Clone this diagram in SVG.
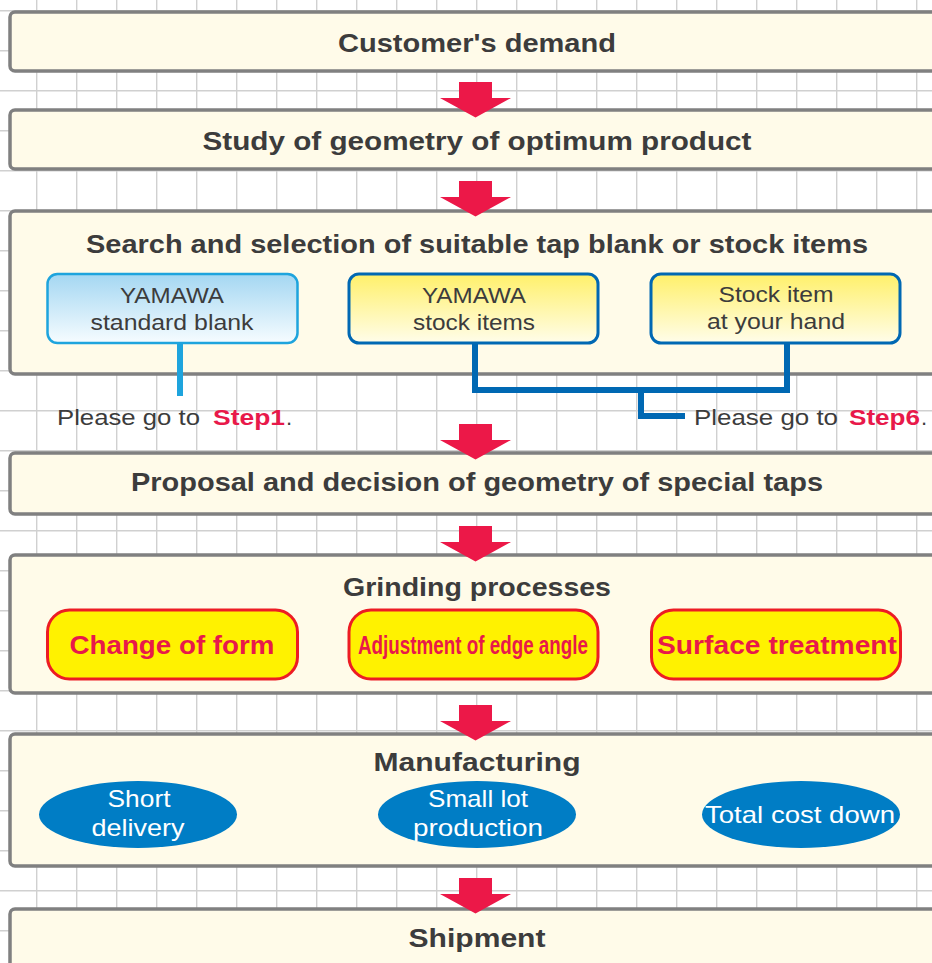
<svg xmlns="http://www.w3.org/2000/svg" width="932" height="963" viewBox="0 0 932 963">
<defs>
<pattern id="grid" x="36" y="10" width="40" height="40" patternUnits="userSpaceOnUse">
<path d="M0 0V40M0 0H40" fill="none" stroke="#d0d0d0" stroke-width="2.8"/>
</pattern>
<linearGradient id="gBlue" x1="0" y1="0" x2="0" y2="1">
<stop offset="0" stop-color="#a4d7f2"/><stop offset="1" stop-color="#f6fcff"/>
</linearGradient>
<linearGradient id="gYel" x1="0" y1="0" x2="0" y2="1">
<stop offset="0" stop-color="#fff06a"/><stop offset="1" stop-color="#fffdea"/>
</linearGradient>
<path id="arr" d="M-16.5 0H16.5V16H35.5L0 35.5L-35.5 16H-16.5Z"/>
</defs>
<style>
.step{fill:#fffbe9;stroke:#808080;stroke-width:3.5}
.title{font-family:"Liberation Sans",Arial,sans-serif;font-weight:bold;font-size:26px;fill:#3c3c3c;text-anchor:middle}
.lbl{font-family:"Liberation Sans",Arial,sans-serif;font-size:22px;fill:#3c3c3c;text-anchor:middle}
.note{font-family:"Liberation Sans",Arial,sans-serif;font-size:22px;fill:#3c3c3c}
.stepref{font-weight:bold;fill:#e8194a}
.btn{fill:#fff200;stroke:#ed1c24;stroke-width:3}
.btnt{font-family:"Liberation Sans",Arial,sans-serif;font-weight:bold;font-size:25px;fill:#e8194a;text-anchor:middle}
.ell{fill:#007dc5}
.ellt{font-family:"Liberation Sans",Arial,sans-serif;font-size:24px;fill:#ffffff;text-anchor:middle}
.arrow{fill:#ec1848}
.conn{fill:none;stroke-width:6}
</style>
<rect width="932" height="963" fill="#ffffff"/>
<rect width="932" height="963" fill="url(#grid)"/>

<g id="customer-demand">
<rect class="step" x="10" y="12" width="940" height="59" rx="5"/>
<text class="title" x="477" y="52" textLength="278" lengthAdjust="spacingAndGlyphs">Customer's demand</text>
</g>
<g id="study-geometry">
<rect class="step" x="10" y="110" width="940" height="59" rx="5"/>
<text class="title" x="477" y="150" textLength="549" lengthAdjust="spacingAndGlyphs">Study of geometry of optimum product</text>
</g>
<g id="search-selection">
<rect class="step" x="10" y="211" width="940" height="163" rx="5"/>
<text class="title" x="477" y="253" textLength="782" lengthAdjust="spacingAndGlyphs">Search and selection of suitable tap blank or stock items</text>
</g>
<g id="yamawa-standard-blank">
<rect x="47.5" y="274" width="250" height="69" rx="10" fill="url(#gBlue)" stroke="#1ea4dd" stroke-width="2.5"/>
<text class="lbl" x="172" y="303" textLength="104" lengthAdjust="spacingAndGlyphs">YAMAWA</text>
<text class="lbl" x="172" y="330" textLength="163" lengthAdjust="spacingAndGlyphs">standard blank</text>
</g>
<g id="yamawa-stock-items">
<rect x="349" y="274" width="249" height="69" rx="10" fill="url(#gYel)" stroke="#0068b3" stroke-width="3"/>
<text class="lbl" x="474" y="303" textLength="104" lengthAdjust="spacingAndGlyphs">YAMAWA</text>
<text class="lbl" x="474" y="330" textLength="122" lengthAdjust="spacingAndGlyphs">stock items</text>
</g>
<g id="stock-item-at-hand">
<rect x="651" y="274" width="249" height="69" rx="10" fill="url(#gYel)" stroke="#0068b3" stroke-width="3"/>
<text class="lbl" x="776" y="302" textLength="115" lengthAdjust="spacingAndGlyphs">Stock item</text>
<text class="lbl" x="776" y="329" textLength="138" lengthAdjust="spacingAndGlyphs">at your hand</text>
</g>
<g id="goto-step1">
<text class="note" x="57" y="425"><tspan textLength="143" lengthAdjust="spacingAndGlyphs">Please go to</tspan><tspan class="stepref" x="213" textLength="72" lengthAdjust="spacingAndGlyphs">Step1</tspan><tspan x="286">.</tspan></text>
</g>
<g id="goto-step6">
<text class="note" x="694" y="425"><tspan textLength="144" lengthAdjust="spacingAndGlyphs">Please go to</tspan><tspan class="stepref" x="849" textLength="71" lengthAdjust="spacingAndGlyphs">Step6</tspan><tspan x="921">.</tspan></text>
</g>
<g id="proposal-decision">
<rect class="step" x="10" y="453" width="940" height="61" rx="5"/>
<text class="title" x="477" y="491" textLength="692" lengthAdjust="spacingAndGlyphs">Proposal and decision of geometry of special taps</text>
</g>
<g id="grinding-processes">
<rect class="step" x="10" y="555" width="940" height="138" rx="5"/>
<text class="title" x="477" y="596" textLength="268" lengthAdjust="spacingAndGlyphs">Grinding processes</text>
</g>
<g id="change-of-form">
<rect class="btn" x="47.5" y="610" width="250" height="69" rx="22"/>
<text class="btnt" x="172" y="654" textLength="205" lengthAdjust="spacingAndGlyphs">Change of form</text>
</g>
<g id="adjustment-edge-angle">
<rect class="btn" x="349" y="610" width="249" height="69" rx="22"/>
<text class="btnt" x="473" y="654" textLength="230" lengthAdjust="spacingAndGlyphs">Adjustment of edge angle</text>
</g>
<g id="surface-treatment">
<rect class="btn" x="651.5" y="610" width="249" height="69" rx="22"/>
<text class="btnt" x="777" y="654" textLength="240" lengthAdjust="spacingAndGlyphs">Surface treatment</text>
</g>
<g id="manufacturing">
<rect class="step" x="10" y="734" width="940" height="132" rx="5"/>
<text class="title" x="477" y="771" textLength="207" lengthAdjust="spacingAndGlyphs">Manufacturing</text>
</g>
<g id="short-delivery">
<ellipse class="ell" cx="138" cy="814.5" rx="99" ry="33.5"/>
<text class="ellt" x="139" y="807" textLength="63" lengthAdjust="spacingAndGlyphs">Short</text>
<text class="ellt" x="138" y="836" textLength="93" lengthAdjust="spacingAndGlyphs">delivery</text>
</g>
<g id="small-lot-production">
<ellipse class="ell" cx="477" cy="814.5" rx="99" ry="33.5"/>
<text class="ellt" x="478" y="807" textLength="100" lengthAdjust="spacingAndGlyphs">Small lot</text>
<text class="ellt" x="478" y="836" textLength="130" lengthAdjust="spacingAndGlyphs">production</text>
</g>
<g id="total-cost-down">
<ellipse class="ell" cx="801" cy="814.5" rx="99" ry="33.5"/>
<text class="ellt" x="800" y="823" textLength="190" lengthAdjust="spacingAndGlyphs">Total cost down</text>
</g>
<g id="shipment">
<rect class="step" x="10" y="909" width="940" height="80" rx="5"/>
<text class="title" x="477" y="947" textLength="137" lengthAdjust="spacingAndGlyphs">Shipment</text>
</g>

<g id="connectors">
<use href="#arr" class="arrow" x="475.5" y="82"/>
<use href="#arr" class="arrow" x="475.5" y="181"/>
<use href="#arr" class="arrow" x="475.5" y="424"/>
<use href="#arr" class="arrow" x="475.5" y="526"/>
<use href="#arr" class="arrow" x="475.5" y="705"/>
<use href="#arr" class="arrow" x="475.5" y="878"/>
<path class="conn" stroke="#1ea4dd" d="M180 344V396"/>
<path class="conn" stroke="#0068b3" d="M475 344V390H787V344"/>
<path class="conn" stroke="#0068b3" d="M641 390V416H685"/>
</g>
</svg>
